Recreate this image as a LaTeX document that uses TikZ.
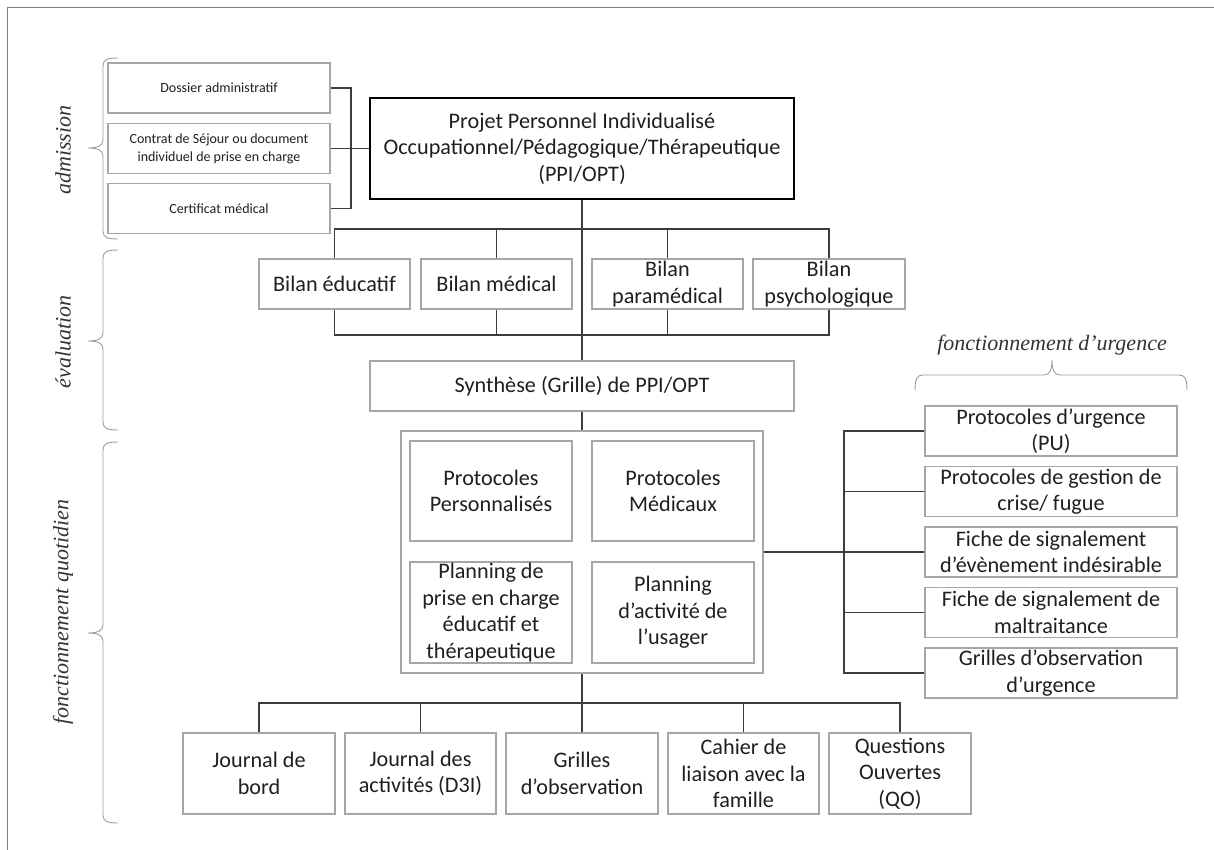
\documentclass[tikz,border=0pt]{standalone}
\usepackage{fontspec}
\setmainfont{Carlito}
\newfontfamily\labelfont{Liberation Serif}
\usetikzlibrary{positioning}
\definecolor{boxgray}{HTML}{A6A6A6}
\definecolor{linkgray}{HTML}{3C3C3C}
\definecolor{bracegray}{HTML}{9C9C9C}

\begin{document}
\begin{tikzpicture}
    [%%%%%%%%%%%%%%%%%%%%%%%%%%%%%%
    x=1pt,y=-1pt,
    box/.style={rectangle,draw=boxgray,line width=1.1pt,inner sep=0pt,align=center,text=black!88,font=\fontsize{22.2}{26.5}\selectfont},
    admbox/.style={box,minimum width=222,minimum height=50,font=\fontsize{14}{17.7}\selectfont},
    bilbox/.style={box,minimum width=151,minimum height=50},
    innerbox/.style={box,minimum width=162,minimum height=100},
    urgbox/.style={box,minimum width=252,minimum height=50},
    jourbox/.style={box,minimum width=152,minimum height=81},
    link/.style={draw=linkgray,line width=1.5pt},
    curly/.style={draw=bracegray,line width=0.9pt},
    phase/.style={text=black!80,font=\labelfont\itshape\fontsize{22}{26}\selectfont},
    ]%%%%%%%%%%%%%%%%%%%%%%%%%%%%%%

    \useasboundingbox (0,0) rectangle (1214,850);
    \draw[draw=gray,line width=0.8pt] (1214,7) -- (7,7) -- (7,850);

    % admission
    \node[admbox] at (219,88)(adm_dossier){Dossier administratif};
    \node[admbox] at (219,148.5)(adm_contrat){Contrat de Séjour ou document\\individuel de prise en charge};
    \node[admbox] at (219,208.5)(adm_certif){Certificat médical};
    \node[box,minimum width=424,minimum height=101,draw=black,line width=2.6pt] at (582,148.5)(ppi)
        {Projet Personnel Individualisé\\Occupationnel/Pédagogique/Thérapeutique\\(PPI/OPT)};
    \coordinate (adm_bus) at (351,148.5);
    \draw[link] (adm_dossier.east) -| (adm_bus);
    \draw[link] (adm_certif.east) -| (adm_bus);
    \draw[link] (adm_contrat.east) -- (ppi.west);

    % evaluation
    \node[bilbox] at (334.5,284)(bil_educ){Bilan éducatif};
    \node[bilbox] at (496.5,284)(bil_med){Bilan médical};
    \node[bilbox] at (667.5,284)(bil_para){Bilan\\paramédical};
    \node[bilbox,minimum width=152] at (829,284)(bil_psy){Bilan\\psychologique};
    \coordinate (bil_top) at (582,229);
    \coordinate (bil_bot) at (582,335);
    \draw[link] (bil_educ.north) |- (bil_top) -| (bil_psy.north);
    \draw[link] (bil_med.north) -- (bil_med.north |- bil_top);
    \draw[link] (bil_para.north) -- (bil_para.north |- bil_top);
    \draw[link] (bil_educ.south) |- (bil_bot) -| (bil_psy.south);
    \draw[link] (bil_med.south) -- (bil_med.south |- bil_bot);
    \draw[link] (bil_para.south) -- (bil_para.south |- bil_bot);
    \node[box,minimum width=424,minimum height=50] at (582,386)(synth){Synthèse (Grille) de PPI/OPT};
    \draw[link] (ppi.south) -- (synth.north);

    % fonctionnement quotidien
    \node[box,minimum width=362,minimum height=242] at (582,552)(quot){};
    \node[innerbox] at (491,491)(prot_perso){Protocoles\\Personnalisés};
    \node[innerbox] at (673,491)(prot_med){Protocoles\\Médicaux};
    \node[innerbox,minimum height=101] at (491,612.5)(plan_pec){Planning de\\prise en charge\\éducatif et\\thérapeutique};
    \node[innerbox,minimum height=101] at (673,612.5)(plan_act){Planning\\d’activité de\\l’usager};
    \draw[link] (synth.south) -- (quot.north);

    \node[jourbox] at (259,773.5)(jour_bord){Journal de\\bord};
    \node[jourbox,minimum width=151] at (420.5,773.5)(jour_act){Journal des\\activités (D3I)};
    \node[jourbox] at (582,773.5)(jour_grille){Grilles\\d’observation};
    \node[jourbox,minimum width=151] at (743.5,773.5)(jour_cahier){Cahier de\\liaison avec la\\famille};
    \node[jourbox,minimum width=142] at (900,773.5)(jour_qo){Questions\\Ouvertes\\(QO)};
    \coordinate (jour_bus) at (582,703);
    \draw[link] (quot.south) -- (jour_grille.north);
    \draw[link] (jour_bord.north) |- (jour_bus) -| (jour_qo.north);
    \draw[link] (jour_act.north) -- (jour_act.north |- jour_bus);
    \draw[link] (jour_cahier.north) -- (jour_cahier.north |- jour_bus);

    % fonctionnement d'urgence
    \node[urgbox] at (1051,431)(urg_pu){Protocoles d’urgence\\(PU)};
    \node[urgbox] at (1051,491.5)(urg_crise){Protocoles de gestion de\\crise/ fugue};
    \node[urgbox] at (1051,552)(urg_fiche){Fiche de signalement\\d’évènement indésirable};
    \node[urgbox] at (1051,612.5)(urg_malt){Fiche de signalement de\\maltraitance};
    \node[urgbox] at (1051,673)(urg_grille){Grilles d’observation\\d’urgence};
    \coordinate (urg_bus) at (844,552);
    \draw[link] (quot.east) -- (urg_fiche.west);
    \draw[link] (urg_pu.west) -| (urg_bus);
    \draw[link] (urg_grille.west) -| (urg_bus);
    \draw[link] (urg_crise.west) -- (urg_crise.west -| urg_bus);
    \draw[link] (urg_malt.west) -- (urg_malt.west -| urg_bus);

    % braces
    \draw[curly] (118,58) .. controls (107,58) and (103,60) .. (103,66) -- (103,140)
        .. controls (103,146) and (97,148) .. (88,148) .. controls (97,148) and (103,150) .. (103,156)
        -- (103,231) .. controls (103,237) and (107,239) .. (118,239);
    \draw[curly] (118,250) .. controls (107,250) and (103,252) .. (103,258) -- (103,333)
        .. controls (103,339) and (97,341) .. (88,341) .. controls (97,341) and (103,343) .. (103,349)
        -- (103,422) .. controls (103,428) and (107,430) .. (118,430);
    \draw[curly] (118,442) .. controls (107,442) and (103,444) .. (103,450) -- (103,625)
        .. controls (103,631) and (97,633) .. (88,633) .. controls (97,633) and (103,635) .. (103,641)
        -- (103,815) .. controls (103,821) and (107,823) .. (118,823);
    \draw[curly] (915,390) .. controls (915,379) and (917,375) .. (923,375) -- (1044,375)
        .. controls (1050,375) and (1052,369) .. (1052,360) .. controls (1052,369) and (1054,375) .. (1060,375)
        -- (1179,375) .. controls (1185,375) and (1187,379) .. (1187,390);
    \node[phase,rotate=90] at (63,150)(lab_adm){admission};
    \node[phase,rotate=90] at (63,342)(lab_eval){évaluation};
    \node[phase,rotate=90] at (63,612)(lab_quot){fonctionnement quotidien};
    \node[phase] at (1052,345)(lab_urg){fonctionnement d’urgence};
\end{tikzpicture}
\end{document}
